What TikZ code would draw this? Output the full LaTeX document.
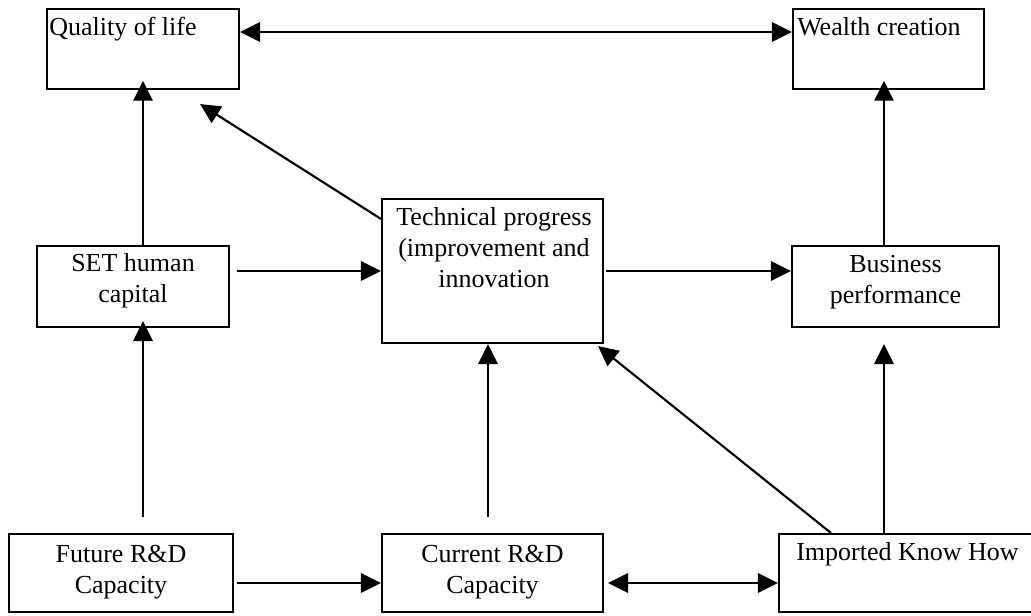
\documentclass[tikz,border=0pt]{standalone}
\usepackage{fontspec}
\setmainfont{Liberation Serif}
\usetikzlibrary{arrows.meta,fit}
\begin{document}
\begin{tikzpicture}[x=0.75pt,y=-0.75pt,
  box/.style={draw, line width=1.6pt, inner sep=0pt},
  lbl/.style={inner sep=0pt, font=\fontsize{19.5}{23.3}\selectfont},
  conn/.style={line width=1.6pt, -{Triangle[length=15pt,width=14.5pt]}},
  both/.style={line width=1.6pt, {Triangle[length=15pt,width=14.5pt]}-{Triangle[length=15pt,width=14.5pt]}}]
\useasboundingbox (0,0) rectangle (1031,615);
\fill[white] (0,0) rectangle (1031,615);
\clip (0,0) rectangle (1031,615);

% boxes
\node[box, fit={(47,9) (239,89)}] (qol) {};
\node[box, fit={(793,9) (984,89)}] (wc) {};
\node[box, fit={(37,246) (229,327)}] (set) {};
\node[box, fit={(382,199) (603,343)}] (tp) {};
\node[box, fit={(792,246) (999,327)}] (bp) {};
\node[box, fit={(9,534) (233,612)}] (fut) {};
\node[box, fit={(382,534) (603,612)}] (cur) {};
\node[box, fit={(779,534) (1045,612)}] (imp) {};

% texts
\node[lbl, anchor=base west] (qolT) at (49,35) {Quality of life};
\node[lbl, anchor=base west] (wcT) at (797,35) {Wealth creation};
\node[lbl, anchor=base] (setT) at (133,271) {\begin{tabular}[t]{@{}c@{}}SET human\\capital\end{tabular}};
\node[lbl, anchor=base] (tpT) at (494,225) {\begin{tabular}[t]{@{}c@{}}Technical progress\\(improvement and\\innovation\end{tabular}};
\node[lbl, anchor=base] (bpT) at (895.5,272) {\begin{tabular}[t]{@{}c@{}}Business\\performance\end{tabular}};
\node[lbl, anchor=base] (futT) at (121,562) {\begin{tabular}[t]{@{}c@{}}Future R\&D\\Capacity\end{tabular}};
\node[lbl, anchor=base] (curT) at (492.5,562) {\begin{tabular}[t]{@{}c@{}}Current R\&D\\Capacity\end{tabular}};
\node[lbl, anchor=base west] (impT) at (796,560) {Imported Know How};

% helper coordinates
\coordinate (qa) at ([yshift=12.75pt]qol.east);
\coordinate (sa) at ([yshift=11.6pt]set.east);
\coordinate (bw) at ([xshift=-3.4pt]wc.south);
\coordinate (cv) at ([xshift=-3.4pt]tp.south);
\coordinate (fa) at ([yshift=-7.5pt]fut.east);
\coordinate (ca) at ([yshift=-7.5pt]cur.east);

% connectors
\draw[both] (qa) -- (qa -| wc.west);
\draw[conn, shorten >=-7pt] (qol.south |- set.north) -- (qol.south);
\draw[conn, shorten <=5pt] (sa) -- (sa -| tp.west);
\draw[conn] ([yshift=-15.75pt]tp.north west) -- ([shift={(-30pt,-10.5pt)}]qol.south east);
\draw[conn, shorten <=1.5pt] (tp.east) -- (tp.east -| bp.west);
\draw[conn, shorten >=-7pt] (bw |- bp.north) -- (bw);
\draw[conn, shorten >=12pt] (bw |- imp.north) -- (bw |- bp.south);
\draw[conn, shorten <=12pt] (cv |- cur.north) -- (cv);
\draw[conn, shorten <=12pt, shorten >=-5.25pt] (qol.south |- fut.north) -- (qol.south |- set.south);
\draw[conn] ([xshift=39.75pt]imp.north west) -- ([shift={(-4.5pt,-1.5pt)}]tp.south east);
\draw[conn, shorten <=2.25pt] (fa) -- (fa -| cur.west);
\draw[both, shorten <=3pt] (ca) -- (ca -| imp.west);
\end{tikzpicture}
\end{document}
